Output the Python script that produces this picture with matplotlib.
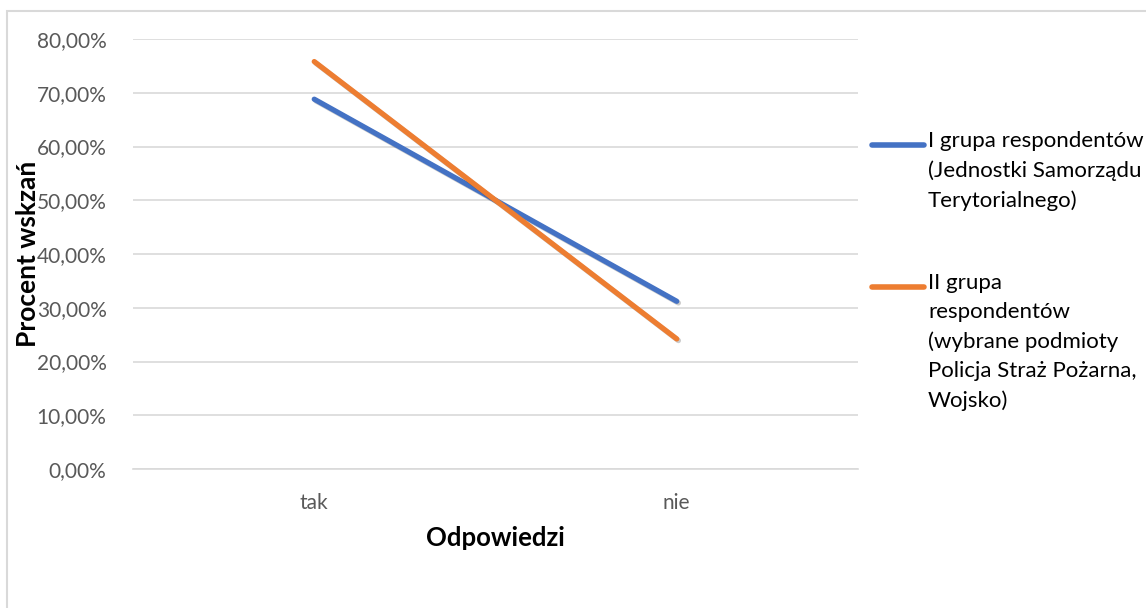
import numpy as np
import matplotlib.pyplot as plt
import matplotlib.patheffects as pe
from matplotlib.patches import Rectangle
from matplotlib.lines import Line2D
from matplotlib.ticker import FuncFormatter

plt.rcParams['font.family'] = ['Lato', 'DejaVu Sans']

categories = ['tak', 'nie']
grupa_1 = [0.688, 0.312]
grupa_2 = [0.758, 0.242]
labels = ['I grupa respondentów\n(Jednostki Samorządu\nTerytorialnego)',
          'II grupa\nrespondentów\n(wybrane podmioty\nPolicja Straż Pożarna,\nWojsko)']
colors = ['#4472C4', '#ED7D31']
yticks = [0, 0.1, 0.2, 0.3, 0.4, 0.5, 0.6, 0.7, 0.8]

W, H = 1146, 608
fig = plt.figure(figsize=(W / 100, H / 100), dpi=100)
ax = fig.add_axes([133 / W, 1 - 469 / H, (858 - 133) / W, (469 - 39) / H])

# chart border (only top/left visible in reference)
fig.patches.append(Rectangle((7 / W, -0.1), 1.2, 1 - 11 / H + 0.1,
                             transform=fig.transFigure, fill=False,
                             edgecolor='#d9d9d9', linewidth=1.5))

x = np.arange(len(categories))
shadow = [pe.SimpleLineShadow(offset=(1.2, -1.2), alpha=0.2, shadow_color='k'), pe.Normal()]
for vals, c in zip([grupa_1, grupa_2], colors):
    ax.plot(x, vals, color=c, linewidth=3.8, solid_capstyle='round', path_effects=shadow)

ax.set_xlim(-0.5, 1.5)
ax.set_ylim(0, 0.8)
ax.set_yticks(yticks)
ax.yaxis.set_major_formatter(FuncFormatter(lambda v, p: f'{v * 100:.2f}%'.replace('.', ',')))
ax.set_xticks(x)
ax.set_xticklabels(categories)
ax.grid(axis='y', color='#d9d9d9', linewidth=1.2)
ax.set_axisbelow(True)
for s in ax.spines.values():
    s.set_visible(False)
ax.spines['bottom'].set_visible(True)
ax.spines['bottom'].set_color('#d9d9d9')
ax.spines['bottom'].set_linewidth(1.2)
ax.tick_params(length=0, labelsize=15, labelcolor='#595959')
ax.tick_params(axis='y', pad=19)
ax.tick_params(axis='x', pad=17)

ax.set_xlabel('Odpowiedzi', fontsize=18.5, fontweight='bold', labelpad=10)
fig.text(28 / W, 1 - 254 / H, 'Procent wskzań', rotation=90, fontsize=19,
         fontweight='bold', ha='center', va='center')

# legend drawn by hand so the key sits on the first text line
leg_y = [145, 287]
for lab, c, yy in zip(labels, colors, leg_y):
    fig.add_artist(Line2D([872 / W, 924 / W], [1 - yy / H] * 2, color=c,
                          linewidth=4, solid_capstyle='round'))
    fig.text(928 / W, 1 - (yy - 14) / H, lab, fontsize=16, ha='left', va='top',
             color='#000000', linespacing=1.57)

fig.savefig('out.png', dpi=100)
